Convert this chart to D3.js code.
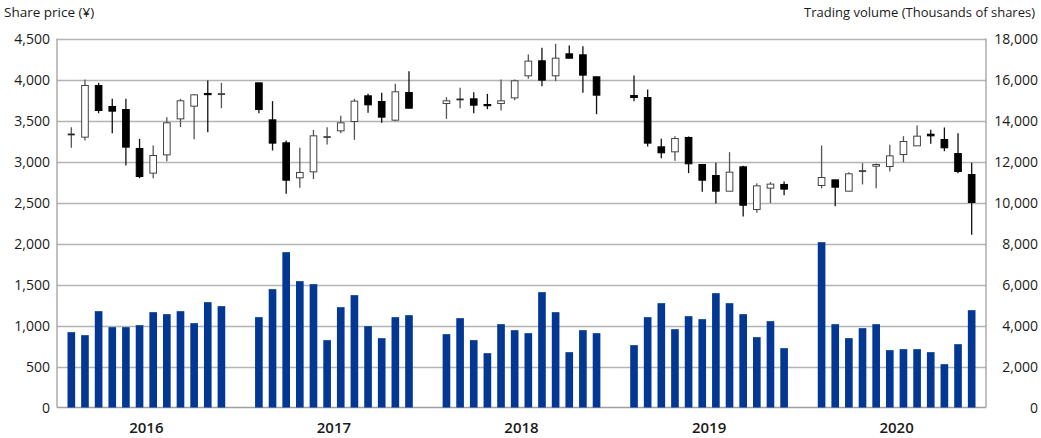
<!DOCTYPE html>
<html>
<head>
<meta charset="utf-8">
<script src="https://cdn.jsdelivr.net/npm/d3@7"></script>
<style>
  body { margin: 0; background: #fff; }
  svg text { font-family: "Open Sans", "Noto Sans", sans-serif; fill: #1a1a1a; }
</style>
</head>
<body>
<div id="chart"></div>
<script>
// ---- data (monthly, Jan..Dec per year) ----
const years = ['2016', '2017', '2018', '2019', '2020'];
const months = d3.range(12);

const open = [
  3337, 3297, 3927, 3671, 3634, 3159, 2858, 3081, 3520, 3675, 3830, 3829,
  3959, 3508, 3228, 2801, 2874, 3305, 3374, 3488, 3801, 3732, 3504, 3841,
  3707, 3764, 3764, 3695, 3707, 3776, 4045, 4228, 4045, 4313, 4301, 4033,
  3805, 3780, 3179, 3118, 3293, 2963, 2829, 2638, 2935, 2415, 2675, 2720,
  2707, 2776, 2638, 2890, 2943, 2939, 3085, 3191, 3333, 3268, 3097, 2841
];
const close = [
  3337, 3927, 3622, 3614, 3175, 2817, 3073, 3472, 3740, 3813, 3815, 3829,
  3634, 3224, 2772, 2866, 3313, 3305, 3472, 3736, 3691, 3541, 3850, 3650,
  3740, 3764, 3687, 3680, 3740, 3984, 4224, 3992, 4260, 4260, 4053, 3809,
  3780, 3224, 3106, 3280, 2972, 2772, 2638, 2870, 2467, 2703, 2724, 2663,
  2805, 2687, 2850, 2890, 2963, 3069, 3244, 3309, 3313, 3167, 2878, 2500
];
const high = [
  3419, 4000, 3959, 3764, 3764, 3276, 3195, 3541, 3764, 3820, 3988, 3959,
  3959, 3736, 3256, 3167, 3386, 3419, 3557, 3764, 3825, 3837, 3947, 4102,
  3785, 3898, 3846, 3825, 4000, 4000, 4305, 4386, 4435, 4415, 4407, 4033,
  4049, 3878, 3276, 3309, 3305, 2963, 2984, 3114, 2947, 2736, 2748, 2756,
  3195, 2776, 2870, 2980, 2976, 3203, 3309, 3439, 3386, 3415, 3346, 2984
];
const low = [
  3167, 3256, 3589, 3346, 2951, 2797, 2797, 3004, 3419, 3272, 3358, 3650,
  3589, 3134, 2606, 2679, 2785, 3207, 3346, 3264, 3594, 3472, 3492, 3650,
  3520, 3650, 3589, 3638, 3622, 3748, 4008, 3919, 3980, 4260, 3837, 3577,
  3736, 3183, 3041, 3008, 2858, 2630, 2487, 2638, 2329, 2374, 2492, 2589,
  2671, 2455, 2638, 2720, 2675, 2878, 2992, 3191, 3215, 3126, 2858, 2106
];
// trading volume, thousands of shares
const volume = [
  3675, 3528, 4699, 3919, 3919, 4016, 4650, 4553, 4699, 4114, 5138, 4943,
  4407, 5772, 7577, 6163, 6016, 3285, 4894, 5480, 3967, 3382, 4407, 4504,
  3577, 4358, 3285, 2650, 4065, 3772, 3626, 5626, 4650, 2699, 3772, 3626,
  3041, 4407, 5089, 3821, 4455, 4309, 5577, 5089, 4553, 3431, 4211, 2894,
  8065, 4065, 3382, 3870, 4065, 2797, 2846, 2846, 2699, 2114, 3089, 4748
];

const priceTicks = d3.range(0, 4501, 500);
const volumeTicks = d3.range(0, 18001, 2000);

// ---- layout ----
const W = 1041, H = 438;
const M = { left: 57, right: 986, top: 38.5, bottom: 407.5 };

const svg = d3.select('#chart').append('svg')
  .attr('width', W).attr('height', H);

const yPrice = d3.scaleLinear().domain([0, 4500]).range([M.bottom, M.top]);
const yVol = d3.scaleLinear().domain([0, 18000]).range([M.bottom, M.top]);

const xYear = d3.scaleBand().domain(years).range([M.left, M.right])
  .paddingInner(0.127).paddingOuter(0.04);
const xMonth = d3.scaleBand().domain(months).range([0, xYear.bandwidth()])
  .paddingInner(0.44).paddingOuter(0.22);

const rows = volume.map((v, i) => ({
  year: years[Math.floor(i / 12)],
  m: i % 12,
  o: open[i], h: high[i], l: low[i], c: close[i], v
}));
const cx = d => xYear(d.year) + xMonth(d.m) + xMonth.bandwidth() / 2;

// gridlines
svg.append('g').selectAll('line')
  .data(priceTicks.slice(1))
  .join('line')
  .attr('x1', M.left).attr('x2', M.right)
  .attr('y1', d => Math.round(yPrice(d)) + 0.5)
  .attr('y2', d => Math.round(yPrice(d)) + 0.5)
  .attr('stroke', '#b4b4b4').attr('stroke-width', 1.3);

// frame
svg.append('g').attr('fill', 'none').attr('stroke', '#a0a0a0').attr('stroke-width', 1.3)
  .call(g => {
    g.append('line').attr('x1', M.left).attr('x2', M.left).attr('y1', M.top).attr('y2', M.bottom);
    g.append('line').attr('x1', M.right).attr('x2', M.right).attr('y1', M.top).attr('y2', M.bottom);
    g.append('line').attr('x1', M.left).attr('x2', M.right).attr('y1', M.bottom).attr('y2', M.bottom);
  });

// volume bars
svg.append('g').selectAll('rect')
  .data(rows)
  .join('rect')
  .attr('x', d => xYear(d.year) + xMonth(d.m))
  .attr('width', xMonth.bandwidth())
  .attr('y', d => yVol(d.v))
  .attr('height', d => yVol(0) - yVol(d.v))
  .attr('fill', '#023893');

// candlesticks
const candles = svg.append('g').selectAll('g')
  .data(rows)
  .join('g');

candles.append('line')
  .attr('x1', cx).attr('x2', cx)
  .attr('y1', d => yPrice(d.h)).attr('y2', d => yPrice(d.l))
  .attr('stroke', d => d.c < d.o ? '#111' : '#555')
  .attr('stroke-width', 1.3);

const bw = xMonth.bandwidth() - 1;
candles.append('rect')
  .attr('x', d => cx(d) - bw / 2)
  .attr('width', bw)
  .attr('y', d => yPrice(Math.max(d.o, d.c)))
  .attr('height', d => Math.max(1.2, Math.abs(yPrice(d.o) - yPrice(d.c))))
  .attr('fill', d => d.c < d.o ? '#000' : (d.c === d.o ? '#111' : '#fff'))
  .attr('stroke', d => d.c < d.o ? '#000' : '#444')
  .attr('stroke-width', d => d.c === d.o ? 0.6 : 1);

// left axis labels
svg.append('g').selectAll('text')
  .data(priceTicks)
  .join('text')
  .attr('x', 50).attr('y', d => yPrice(d))
  .attr('dy', '0.36em')
  .attr('text-anchor', 'end')
  .attr('font-size', 14)
  .text(d3.format(','));

// right axis labels
svg.append('g').selectAll('text')
  .data(volumeTicks)
  .join('text')
  .attr('x', 1038).attr('y', d => yVol(d))
  .attr('dy', '0.36em')
  .attr('text-anchor', 'end')
  .attr('font-size', 14)
  .text(d3.format(','));

// year labels
svg.append('g').selectAll('text')
  .data(years)
  .join('text')
  .attr('x', d => xYear(d) + xYear.bandwidth() / 2)
  .attr('y', 433)
  .attr('text-anchor', 'middle')
  .attr('font-size', 15)
  .attr('font-weight', 600)
  .text(d => d);

// axis titles
svg.append('text')
  .attr('x', 4).attr('y', 17)
  .attr('font-size', 13.5)
  .text('Share price (¥)');

svg.append('text')
  .attr('x', 1035).attr('y', 17)
  .attr('text-anchor', 'end')
  .attr('font-size', 13)
  .text('Trading volume (Thousands of shares)');
</script>
</body>
</html>
